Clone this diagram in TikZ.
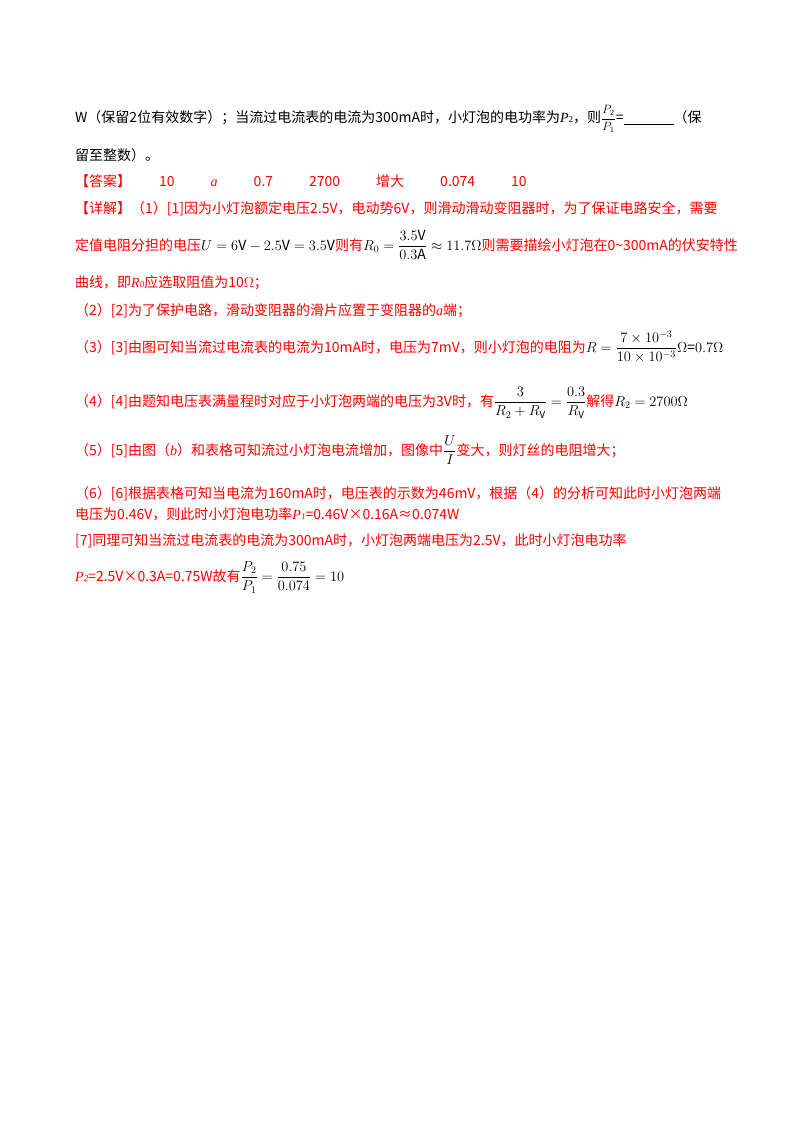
\documentclass[tikz,border=0pt]{standalone}
\usepackage{amsmath}
\usepackage{fontspec}
\setmainfont{Noto Sans CJK SC}
\newfontfamily\tm{Liberation Serif}
\definecolor{ans}{RGB}{255,0,0}
\newcommand{\mth}[1]{{\color{black}\fontsize{14}{16}\selectfont$#1$}}
\begin{document}
\begin{tikzpicture}[x=1pt,y=-1pt,
  ln/.style={anchor=base west,inner sep=0pt,font=\fontsize{14}{16}\selectfont},
  rd/.style={ln,text=ans}]
\useasboundingbox (0,0) rectangle (800,1132);
\node[ln] (l1) at (75,122) {W（保留2位有效数字）；当流过电流表的电流为300mA时，小灯泡的电功率为\textit{\tm P}{\tm\fontsize{9}{10}\selectfont 2}，则{\fontsize{12}{14}\selectfont$\dfrac{P_2}{P_1}$}=\underline{\hspace{50pt}}（保};
\node[ln] (l2) at (75,160) {留至整数）。};
\node[rd] (l3) at (75,186) {【答案】\hspace{28pt}10\hspace{36pt}\textit{\tm a}\hspace{36pt}0.7\hspace{36pt}2700\hspace{36pt}增大\hspace{36pt}0.074\hspace{36pt}10};
\node[rd] (l4) at (75,213) {【详解】（1）[1]因为小灯泡额定电压2.5V，电动势6V，则滑动滑动变阻器时，为了保证电路安全，需要};
\node[rd] (l5) at (75,250) {定值电阻分担的电压\mth{U=6\mathrm{V}-2.5\mathrm{V}=3.5\mathrm{V}}则有\mth{R_0=\dfrac{3.5\mathrm{V}}{0.3\mathrm{A}}\approx11.7\Omega}则需要描绘小灯泡在0\textasciitilde300mA的伏安特性};
\node[rd] (l6) at (75,287) {曲线，即\textit{\tm R}{\tm\fontsize{9}{10}\selectfont\itshape 0}应选取阻值为10$\Omega$；};
\node[rd] (l7) at (75,315) {（2）[2]为了保护电路，滑动变阻器的滑片应置于变阻器的\textit{\tm a}端；};
\node[rd] (l8) at (75,352) {（3）[3]由图可知当流过电流表的电流为10mA时，电压为7mV，则小灯泡的电阻为\mth{R=\dfrac{7\times10^{-3}}{10\times10^{-3}}\Omega\text{=}0.7\Omega}};
\node[rd] (l9) at (75,406) {（4）[4]由题知电压表满量程时对应于小灯泡两端的电压为3V时，有\mth{\dfrac{3}{R_2+R_{\mathrm V}}=\dfrac{0.3}{R_{\mathrm V}}}解得\mth{R_2=2700\Omega}};
\node[rd] (l10) at (75,455) {（5）[5]由图（\textit{\tm b}）和表格可知流过小灯泡电流增加，图像中\mth{\dfrac{U}{I}}变大，则灯丝的电阻增大；};
\node[rd] (l11) at (75,498) {（6）[6]根据表格可知当电流为160mA时，电压表的示数为46mV，根据（4）的分析可知此时小灯泡两端};
\node[rd] (l12) at (75,519) {电压为0.46V，则此时小灯泡电功率\textit{\tm P}{\tm\fontsize{9}{10}\selectfont\itshape 1}=0.46V×0.16A≈0.074W};
\node[rd] (l13) at (75,545) {[7]同理可知当流过电流表的电流为300mA时，小灯泡两端电压为2.5V，此时小灯泡电功率};
\node[rd] (l14) at (75,581) {\textit{\tm P}{\tm\fontsize{9}{10}\selectfont\itshape 2}=2.5V×0.3A=0.75W故有\mth{\dfrac{P_2}{P_1}=\dfrac{0.75}{0.074}=10}};
\end{tikzpicture}
\end{document}
